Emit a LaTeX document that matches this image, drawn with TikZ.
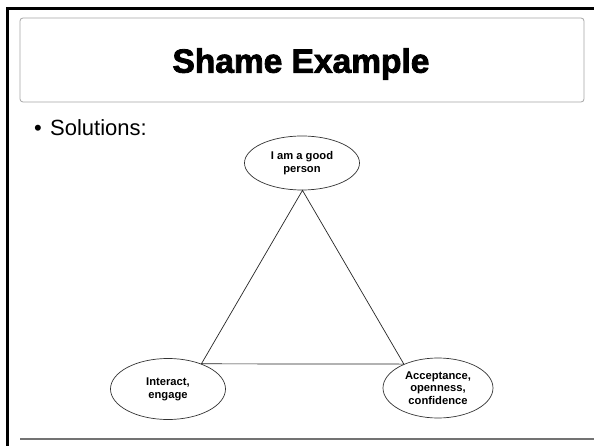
\documentclass[tikz,border=0pt]{standalone}
\usepackage{fontspec}
\setmainfont{Liberation Sans}
\newfontfamily\heavyfont[BoldFeatures={FakeBold=2.5}]{Liberation Sans}
\usetikzlibrary{shapes.geometric}

\tikzset{
  frameline/.style={line width=3pt, black},
  titlebox/.style={draw=black!35, line width=0.8pt, rounded corners=3pt},
  idea/.style={draw=black!80, ellipse, inner sep=0pt, line width=0.7pt,
               align=center, font=\bfseries\fontsize{11.2}{12.8}\selectfont},
  link/.style={black!85, line width=0.7pt},
  rule/.style={draw=black!55, line width=1.2pt}
}

\begin{document}
\begin{tikzpicture}[x=1pt, y=-1pt]
  \useasboundingbox (0,0) rectangle (594,446);
  \fill[white] (0,0) rectangle (594,446);

  % slide frame (left and top edges)
  \draw[frameline] (7,446) -- (7,9) -- (594,9);

  % title area
  \draw[titlebox] (20,18) rectangle (584,102);
  \node[font=\heavyfont\bfseries\fontsize{33.5}{40}\selectfont] (title) at (301,64) {Shame Example};

  % bullet text
  \node[anchor=base west, inner sep=0pt, font=\fontsize{22}{26}\selectfont] (dot) at (34,136) {\textbullet};
  \node[anchor=base west, inner sep=0pt, font=\fontsize{22}{26}\selectfont] (bullet) at (50,136) {Solutions:};

  % the three ideas
  \node[idea, minimum width=115pt, minimum height=54pt] (good) at (302,163) {I am a good\\person};
  \node[idea, minimum width=115pt, minimum height=61pt] (act) at (168,389) {Interact,\\engage};
  \node[idea, minimum width=110pt, minimum height=60pt] (accept) at (438,388) {Acceptance,\\openness,\\confidence};

  % triangle joining them
  \draw[link] (good.-89) -- (act.37) -- (accept.145) -- cycle;

  % footer rule
  \draw[rule] (20,439) -- (594,439);
\end{tikzpicture}
\end{document}
